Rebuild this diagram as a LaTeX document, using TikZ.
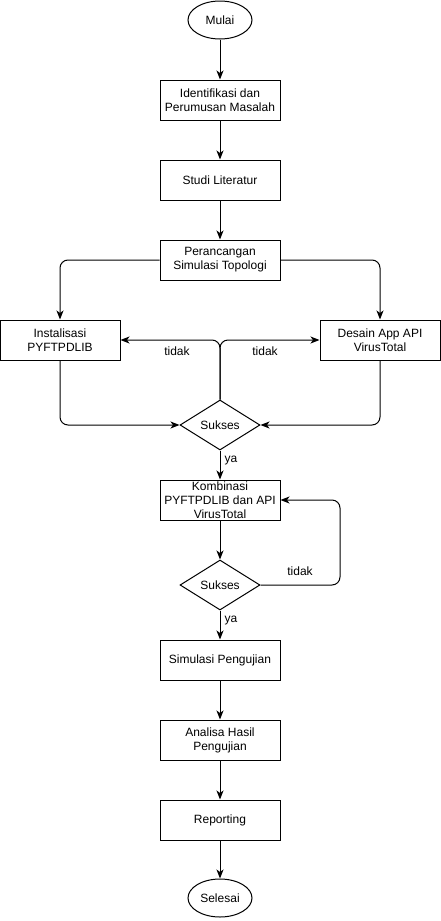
\documentclass[tikz,border=0pt]{standalone}
\usepackage{fontspec}
\setmainfont{Liberation Sans}
\usetikzlibrary{shapes.geometric,arrows.meta}
\begin{document}
\begin{tikzpicture}[x=1pt,y=-1pt,
  every node/.style={font=\fontsize{12}{14}\selectfont},
  procbox/.style={draw,line width=1pt,minimum width=120pt,minimum height=40pt,inner sep=0pt,align=center},
  term/.style={draw,ellipse,line width=1pt,minimum width=64pt,minimum height=38pt,inner sep=0pt},
  decision/.style={draw,diamond,line width=1pt,minimum width=80pt,minimum height=50pt,inner sep=0pt},
  conn/.style={draw,line width=1pt,-{Stealth[length=9pt,width=7pt,inset=2.5pt]},rounded corners=8pt},
  lbl/.style={inner sep=0pt}]
\useasboundingbox (0,0) rectangle (441,921);
\node[term] (mulai) at (220,20) {Mulai};
\node[procbox] (ident) at (220,100) {Identifikasi dan\\Perumusan Masalah};
\node[procbox] (studi) at (220,180) {Studi Literatur};
\node[procbox] (peran) at (220,260) {Perancangan\\Simulasi Topologi};
\node[procbox] (inst) at (60,340) {Instalisasi\\PYFTPDLIB};
\node[procbox] (desain) at (380,340) {Desain App API\\VirusTotal};
\node[decision] (suk1) at (220,425) {Sukses};
\node[procbox] (komb) at (220,500) {Kombinasi\\PYFTPDLIB dan API\\VirusTotal};
\node[decision] (suk2) at (220,585) {Sukses};
\node[procbox] (simul) at (220,660) {Simulasi Pengujian};
\node[procbox] (anal) at (220,740) {Analisa Hasil\\Pengujian};
\node[procbox] (report) at (220,820) {Reporting};
\node[term] (selesai) at (220,898) {Selesai};
\coordinate (loopc) at (340,500);

\path[conn] (mulai) -- (ident);
\path[conn] (ident) -- (studi);
\path[conn] (studi) -- (peran);
\path[conn] (peran.west) -| (inst.north);
\path[conn] (peran.east) -| (desain.north);
\path[conn] (inst.south) |- (suk1.west);
\path[conn] (desain.south) |- (suk1.east);
\path[conn] (suk1.north) |- (inst.east);
\path[conn] (suk1.north) |- (desain.west);
\path[conn] (suk1.south) -- (komb.north);
\path[conn] (komb) -- (suk2);
\path[conn] (suk2.east) -| (loopc) -- (komb.east);
\path[conn] (suk2.south) -- (simul.north);
\path[conn] (simul) -- (anal);
\path[conn] (anal) -- (report);
\path[conn] (report) -- (selesai);

\node[lbl] (t1) at (177,351) {tidak};
\node[lbl] (t2) at (265,351) {tidak};
\node[lbl] (t3) at (300,571) {tidak};
\node[lbl] (y1) at (231,461) {ya};
\node[lbl] (y2) at (231,621) {ya};
\end{tikzpicture}
\end{document}
